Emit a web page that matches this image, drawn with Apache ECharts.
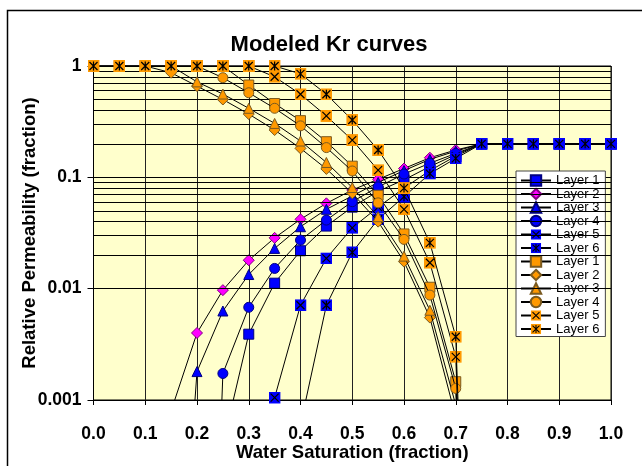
<!DOCTYPE html>
<html>
<head>
<meta charset="utf-8">
<script src="https://cdn.jsdelivr.net/npm/echarts@6/dist/echarts.min.js"></script>
<style>
html,body{margin:0;padding:0;background:#fff;}
#c{width:642px;height:466px;}
</style>
</head>
<body>
<div id="c"></div>
<script>
// ---- data ----
const sw = [0.00,0.05,0.10,0.15,0.20,0.25,0.30,0.35,0.40,0.45,0.50,0.55,0.60,0.65,0.70,0.75,0.80,0.85,0.90,0.95,1.00];
// water relative permeability (blue)
const krwL1 = [null,null,null,null,null,0.0004,0.0039,0.0112,0.0219,0.0365,0.054,0.075,0.095,0.125,0.16,0.2,0.2,0.2,0.2,0.2,0.2];
const krwL2 = [null,null,null,0.0008,0.004,0.0097,0.018,0.0286,0.042,0.0584,0.077,0.096,0.12,0.15,0.176,0.2,0.2,0.2,0.2,0.2,0.2];
const krwL3 = [null,null,null,1e-6,0.0018,0.0063,0.0134,0.023,0.036,0.0516,0.068,0.09,0.115,0.145,0.172,0.2,0.2,0.2,0.2,0.2,0.2];
const krwL4 = [null,null,null,null,1e-9,0.00173,0.0068,0.0152,0.0273,0.0413,0.0604,0.082,0.107,0.134,0.164,0.2,0.2,0.2,0.2,0.2,0.2];
const krwL5 = [null,null,null,null,null,null,1e-9,0.00105,0.0071,0.0187,0.0352,0.054,0.08,0.115,0.155,0.2,0.2,0.2,0.2,0.2,0.2];
const krwL6 = [null,null,null,null,null,null,null,1e-9,0.0006,0.0071,0.0212,0.042,0.067,0.108,0.148,0.2,0.2,0.2,0.2,0.2,0.2];
// oil relative permeability (orange)
const kroL1 = [1,1,1,1,1,1,0.675,0.46,0.323,0.209,0.126,0.069,0.031,0.0103,0.00146,1e-9,null,null,null,null,null];
const kroL2 = [1,1,1,0.87,0.66,0.50,0.37,0.266,0.182,0.119,0.072,0.040,0.0175,0.0055,0.0007,1e-9,null,null,null,null,null];
const kroL3 = [1,1,1,1,0.72,0.56,0.417,0.305,0.212,0.136,0.081,0.0443,0.0196,0.0064,0.0009,1e-9,null,null,null,null,null];
const kroL4 = [1,1,1,1,1,0.785,0.575,0.417,0.29,0.185,0.114,0.059,0.0277,0.00876,0.00127,1e-9,null,null,null,null,null];
const kroL5 = [1,1,1,1,1,1,1,0.80,0.557,0.356,0.216,0.116,0.0516,0.0171,0.00244,1e-9,null,null,null,null,null];
const kroL6 = [1,1,1,1,1,1,1,1,0.85,0.557,0.327,0.176,0.08,0.0258,0.0037,1e-9,null,null,null,null,null];

const xTickLabels = ['0.0','0.1','0.2','0.3','0.4','0.5','0.6','0.7','0.8','0.9','1.0'];
const yTicks = [0.001,0.01,0.1,1];
const yTickLabels = ['0.001','0.01','0.1','1'];
const yMinorGrid = [0.002,0.003,0.004,0.005,0.006,0.007,0.008,0.009,
                    0.02,0.03,0.04,0.05,0.06,0.07,0.08,0.09,
                    0.2,0.3,0.4,0.5,0.6,0.7,0.8,0.9];
const seriesNames = ['Layer 1','Layer 2','Layer 3','Layer 4','Layer 5','Layer 6'];

// ---- styling ----
const FONT = 'Liberation Sans, Arial, sans-serif';
const BLUE = '#0000FF', ORANGE = '#FF9900', MAGENTA = '#FF00FF';
const ORANGE_EDGE = '#7a5a20', BLUE_EDGE = '#000080';

function svgSym(fill, star){
  let s = "<svg xmlns='http://www.w3.org/2000/svg' width='24' height='24'>" +
    "<rect x='0' y='0' width='24' height='24' fill='" + fill + "'/>" +
    "<path d='M4 4L20 20M20 4L4 20" + (star ? "M12 3V21" : "") + "' stroke='#000' stroke-width='2.4' fill='none'/>" +
    "</svg>";
  return 'image://data:image/svg+xml;charset=utf-8,' + encodeURIComponent(s);
}

const waterData = [krwL1,krwL2,krwL3,krwL4,krwL5,krwL6];
const oilData = [kroL1,kroL2,kroL3,kroL4,kroL5,kroL6];
const waterSym = [
  {symbol:'rect', size:10, color:BLUE, edge:BLUE_EDGE},
  {symbol:'diamond', size:11, color:MAGENTA, edge:'#800080'},
  {symbol:'triangle', size:10, color:BLUE, edge:BLUE_EDGE},
  {symbol:'circle', size:10, color:BLUE, edge:BLUE_EDGE},
  {symbol:svgSym(BLUE,false), size:12, color:BLUE, edge:null},
  {symbol:svgSym(BLUE,true), size:12, color:BLUE, edge:null}
];
const oilSym = [
  {symbol:'rect', size:10, color:ORANGE, edge:ORANGE_EDGE},
  {symbol:'diamond', size:11, color:ORANGE, edge:ORANGE_EDGE},
  {symbol:'triangle', size:10, color:ORANGE, edge:ORANGE_EDGE},
  {symbol:'circle', size:10, color:ORANGE, edge:ORANGE_EDGE},
  {symbol:svgSym(ORANGE,false), size:12, color:ORANGE, edge:null},
  {symbol:svgSym(ORANGE,true), size:12, color:ORANGE, edge:null}
];

function mk(name, arr, sym, z){
  return {
    name: name,
    type: 'line',
    data: sw.map((x,i)=> arr[i]==null ? [x,null] : [x, arr[i]]),
    symbol: sym.symbol,
    symbolSize: sym.size,
    showSymbol: true,
    clip: true,
    z: z,
    lineStyle: {color:'#000', width:1},
    itemStyle: {color: sym.color, borderColor: sym.edge || sym.color, borderWidth: sym.edge ? 1 : 0},
    emphasis: {disabled:true},
    animation: false
  };
}

const series = [];
// minor log gridlines
series.push({
  type:'line', data:[], z:1, silent:true, animation:false,
  markLine:{silent:true, symbol:['none','none'], label:{show:false}, animation:false,
    lineStyle:{color:'#000', width:1, type:'solid'},
    data: yMinorGrid.map(v=>({yAxis:v}))}
});
waterData.forEach((d,i)=> series.push(mk(seriesNames[i], d, waterSym[i], 3+i)));
oilData.forEach((d,i)=> series.push(mk(seriesNames[i]+' ', d, oilSym[i], 10+i)));

const chart = echarts.init(document.getElementById('c'), null, {renderer:'canvas'});
chart.setOption({
  animation:false,
  backgroundColor:'#fff',
  grid:{left:93.5, right:31, top:66, bottom:66, show:true, backgroundColor:'#FFFFCC', borderColor:'#000', borderWidth:1, containLabel:false, outerBoundsMode:'none'},
  xAxis:{
    type:'value', min:0, max:1, interval:0.1,
    name:'Water Saturation (fraction)', nameLocation:'middle', nameGap:43, nameMoveOverlap:false,
    nameTextStyle:{fontFamily:FONT, fontWeight:'bold', fontSize:18.5, color:'#000'},
    axisLine:{show:true, onZero:false, lineStyle:{color:'#000', width:1}},
    axisTick:{show:true, inside:false, length:5, lineStyle:{color:'#000'}},
    axisLabel:{margin:25, fontFamily:FONT, fontWeight:'bold', fontSize:17.5, color:'#000',
      formatter:(v)=> xTickLabels[Math.round(v*10)]},
    splitLine:{show:true, lineStyle:{color:'#222', width:1}}
  },
  yAxis:{
    type:'log', logBase:10, min:0.001, max:1,
    name:'Relative Permeability (fraction)', nameLocation:'middle', nameGap:54, nameRotate:90, nameMoveOverlap:false,
    nameTextStyle:{fontFamily:FONT, fontWeight:'bold', fontSize:18.5, color:'#000'},
    axisLine:{show:true, lineStyle:{color:'#000', width:1}},
    axisTick:{show:true, inside:false, length:6, lineStyle:{color:'#000'}},
    axisLabel:{margin:12, fontFamily:FONT, fontWeight:'bold', fontSize:17.5, color:'#000',
      formatter:(v)=>{ const i = yTicks.findIndex(t=>Math.abs(Math.log10(t)-Math.log10(v))<1e-6); return i>=0 ? yTickLabels[i] : ''; }},
    splitLine:{show:true, lineStyle:{color:'#000', width:1}},
    minorTick:{show:false}
  },
  legend:{
    show:true, orient:'vertical', left:516, top:171,
    backgroundColor:'#fff', borderColor:'#444', borderWidth:1,
    padding:[3,6,1,4], itemWidth:30, itemHeight:13, itemGap:0.5,
    textStyle:{fontFamily:FONT, fontSize:13, color:'#000', lineHeight:13},
    formatter:(n)=> n.trim(),
    data: series.slice(1).map(s=>s.name)
  },
  graphic:[
    {type:'rect', shape:{x:7.5, y:10.5, width:720, height:520}, style:{fill:null, stroke:'#000', lineWidth:1.5}, z:100, silent:true},
    {type:'text', x:329, y:45, style:{text:'Modeled Kr curves', fontFamily:FONT, fontWeight:'bold', fontSize:22, fill:'#000', textAlign:'center', textVerticalAlign:'middle'}, z:100}
  ],
  series: series
});
</script>
</body>
</html>
